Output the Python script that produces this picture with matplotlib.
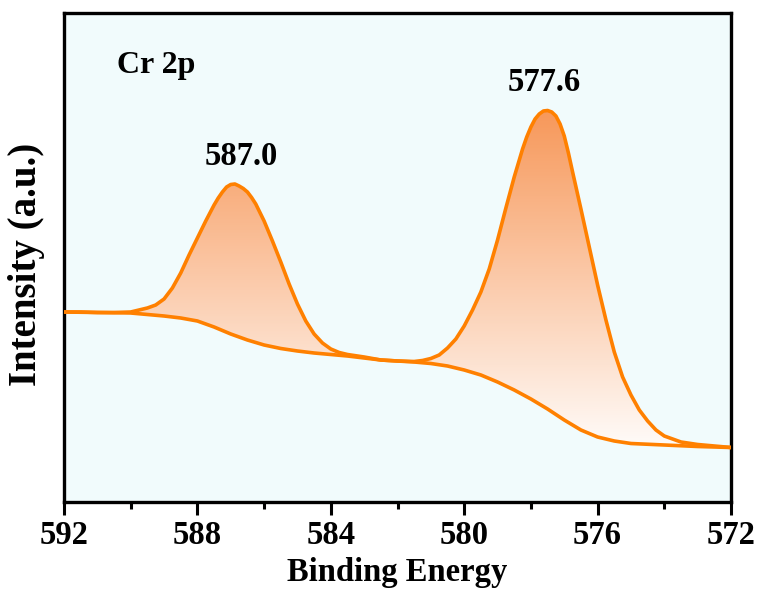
import matplotlib
matplotlib.use("Agg")
import matplotlib.pyplot as plt
import numpy as np
from matplotlib.colors import LinearSegmentedColormap
from matplotlib.ticker import MultipleLocator

# Cr 2p XPS data (intensity in a.u.)
env_E = [592.0, 591.5, 591.0, 590.5, 590.0, 589.75, 589.5, 589.25, 589.0, 588.75,
         588.5, 588.25, 588.0, 587.75, 587.5, 587.375, 587.25, 587.125, 587.0, 586.875,
         586.75, 586.625, 586.5, 586.375, 586.25,
         586.0, 585.75, 585.5, 585.25, 585.0, 584.75, 584.5, 584.25, 584.0, 583.75,
         583.5, 583.0, 582.5, 582.0, 581.5, 581.25, 581.0, 580.75, 580.5, 580.25,
         580.0, 579.75, 579.5, 579.25, 579.0, 578.75, 578.5, 578.25, 578.125, 578.0,
         577.875, 577.75, 577.625, 577.5, 577.375, 577.25, 577.125, 577.0, 576.875, 576.75,
         576.5, 576.25, 576.0, 575.75, 575.5, 575.25,
         575.0, 574.75, 574.5, 574.25, 574.0, 573.5, 573.0, 572.5, 572.0]
env_I = [190, 190, 189.5, 189.5, 190, 192, 194, 197, 203, 214,
         229, 247, 264, 281, 297, 304, 310, 315, 317.5, 318,
         316, 313.5, 310, 304.5, 298,
         281, 261, 240, 218, 198, 181, 168, 159, 153, 149.5,
         147.5, 145, 142, 141, 140.5, 141.5, 143.5, 147, 154, 163,
         176, 192, 210, 233, 262, 294, 325, 353, 365, 375,
         383, 388, 391, 391.5, 390, 386, 378, 366, 349, 330,
         293, 255, 217, 182, 150, 125,
         107, 92, 81, 72, 66, 60, 57.5, 56, 54.5]

bg_E = [592, 591, 590, 589.5, 589, 588.5, 588, 587.5, 587, 586.5,
        586, 585.5, 585, 584.5, 584, 583.5, 583, 582.5, 582, 581.5,
        581, 580.5, 580, 579.5, 579, 578.5, 578, 577.5, 577, 576.5,
        576, 575.5, 575, 574, 573, 572]
bg_I = [190, 189.5, 189, 187.5, 186, 184, 181, 175, 168, 162,
        157, 153.5, 151, 149, 147.5, 146, 144, 142, 141, 140,
        138.5, 136, 132, 127, 120, 112, 103, 93, 82, 72,
        65, 61, 58.5, 57, 55.5, 54.5]

peak_pos = [586.7, 577.6]
peak_lbl = ['587.0', '577.6']
peak_txt_y = [337, 411]

plt.rcParams['font.family'] = 'Liberation Serif'
plt.rcParams['font.weight'] = 'bold'

fig = plt.figure(figsize=(7.61, 5.95), dpi=100)
ax = fig.add_axes([64/761, 93/595, 667/761, 489/595])
ax.set_facecolor('#f1fbfc')
ax.set_xlim(592, 572)
ax.set_ylim(0, 489)

# gradient fill between envelope and background
poly_x = list(env_E) + list(bg_E[::-1])
poly_y = list(env_I) + list(bg_I[::-1])
patch = ax.fill(poly_x, poly_y, facecolor='none', edgecolor='none')[0]
cmap = LinearSegmentedColormap.from_list('og', ['#fffcfa', '#f7985a'])
lev = np.linspace(0, 489, 300)
grad = np.clip((lev - 52) / (392 - 52), 0, 1)[:, None]
im = ax.imshow(grad, cmap=cmap, vmin=0, vmax=1, origin='lower', aspect='auto',
               extent=[592, 572, 0, 489], zorder=1)
im.set_clip_path(patch)

ax.plot(env_E, env_I, color='#ff8000', lw=2.6, zorder=3,
        solid_joinstyle='round', solid_capstyle='round')
ax.plot(bg_E, bg_I, color='#ff8000', lw=2.6, zorder=3,
        solid_joinstyle='round', solid_capstyle='round')

for x, t, y in zip(peak_pos, peak_lbl, peak_txt_y):
    ax.text(x, y, t, ha='center', va='baseline', fontsize=23.5, fontweight='bold')
ax.text(590.4, 429, 'Cr 2p', ha='left', va='baseline', fontsize=23, fontweight='bold')

ax.xaxis.set_major_locator(MultipleLocator(4))
ax.xaxis.set_minor_locator(MultipleLocator(2))
ax.tick_params(axis='x', which='major', direction='out', length=9, width=2.2,
               labelsize=23.5, pad=4)
ax.tick_params(axis='x', which='minor', direction='out', length=5, width=2.2)
ax.set_yticks([])
for s in ax.spines.values():
    s.set_linewidth(2.4)

ax.set_xlabel('Binding Energy', fontsize=23.5, fontweight='bold', labelpad=4)
ax.set_ylabel('Intensity (a.u.)', fontsize=28, fontweight='bold')
ax.yaxis.set_label_coords(-0.028, 0.485)

fig.savefig('out.png', dpi=100)
